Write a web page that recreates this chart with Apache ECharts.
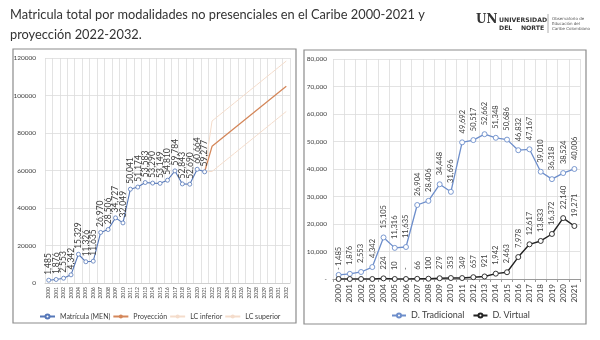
<!DOCTYPE html>
<html><head><meta charset="utf-8">
<script src="https://cdn.jsdelivr.net/npm/echarts@6/dist/echarts.min.js"></script>
<style>html,body{margin:0;padding:0;background:#fff}#c{width:600px;height:340px}</style>
</head><body><div id="c"></div>
<script>
var titleLines = ['Matricula total por modalidades no presenciales en el Caribe 2000-2021 y', 'proyección 2022-2032.'];
var yearsLeft = ['2000','2001','2002','2003','2004','2005','2006','2007','2008','2009','2010','2011','2012','2013','2014','2015','2016','2017','2018','2019','2020','2021','2022','2023','2024','2025','2026','2027','2028','2029','2030','2031','2032'];
var matricula = [1485,1876,2553,4342,15329,11326,11635,26970,28506,34727,32049,50041,51174,53583,53290,53149,54810,59784,52843,52690,60664,59277,null,null,null,null,null,null,null,null,null,null,null];
var proyeccion = [null,null,null,null,null,null,null,null,null,null,null,null,null,null,null,null,null,null,null,null,null,59277,72900,76100,79300,82500,85700,88900,92100,95300,98500,101700,104900];
var lcInferior = [null,null,null,null,null,null,null,null,null,null,null,null,null,null,null,null,null,null,null,null,null,59277,59500,62700,65900,69100,72300,75500,78700,81900,85100,88300,91500];
var lcSuperior = [null,null,null,null,null,null,null,null,null,null,null,null,null,null,null,null,null,null,null,null,null,59277,86400,89600,92800,96000,99200,102400,105600,108800,112000,115200,118400];
var leftTicks = [0,20000,40000,60000,80000,100000,120000];

var yearsRight = ['2000','2001','2002','2003','2004','2005','2006','2007','2008','2009','2010','2011','2012','2013','2014','2015','2016','2017','2018','2019','2020','2021'];
var tradicional = [1485,1876,2553,4342,15105,11316,11635,26904,28406,34448,31696,49692,50517,52662,51348,50686,46832,47167,39010,36318,38524,40006];
var virtual = [0,0,0,0,224,10,0,66,100,279,353,349,657,921,1942,2463,7978,12617,13833,16372,22140,19271];
var virtualHiddenLabels = ['2001','2002','2003'];
var rightTicks = [0,10000,20000,30000,40000,50000,60000,70000,80000];

function fmt(v){ return v === 0 ? '-' : v.toLocaleString('en-US'); }

var chart = echarts.init(document.getElementById('c'), null, {renderer:'canvas'});
var F = 'Lato, "Open Sans", sans-serif';
var gridColor = '#dcdcdc';
var labelCol = '#404040';

var rotLabel = function(size, dist){
  return {show:true, position:'top', rotate:90, align:'left', verticalAlign:'middle', distance:dist, fontSize:size, color:labelCol, fontFamily:F};
};

chart.setOption({
  animation:false,
  textStyle:{fontFamily:F},
  graphic:[
    {type:'text', left:10, top:5, style:{text:titleLines.join('\n'), font:'12.8px '+F, fill:'#333', lineHeight:20}},
    {type:'rect', shape:{x:13,y:49,width:283,height:274}, style:{fill:'none', stroke:'#8c8c8c', lineWidth:1.2}, z:-1},
    {type:'rect', shape:{x:304,y:50,width:282,height:274}, style:{fill:'none', stroke:'#8c8c8c', lineWidth:1.2}, z:-1},
    {type:'text', x:476, y:14, style:{text:'UN', font:'bold 12px "DejaVu Serif", serif', fill:'#333'}},
    {type:'text', x:499, y:17, style:{text:'UNIVERSIDAD', font:'bold 6.2px "DejaVu Sans", sans-serif', fill:'#333'}},
    {type:'text', x:499, y:25, style:{text:'DEL    NORTE', font:'bold 6.2px "DejaVu Sans", sans-serif', fill:'#333'}},
    {type:'line', shape:{x1:548,y1:14,x2:548,y2:33}, style:{stroke:'#999', lineWidth:0.8}},
    {type:'text', x:552, y:16, style:{text:'Observatorio de\nEducación del\nCaribe Colombiano', font:'4px "DejaVu Sans", sans-serif', fill:'#555', lineHeight:5}}
  ],
  legend:[
    {data:[{name:'Matrícula (MEN)'},{name:'Proyección'},{name:'LC inferior'},{name:'LC superior'}],
     left:34, top:308, itemWidth:15, itemHeight:5, itemGap:2, textStyle:{fontSize:7, color:'#404040', fontFamily:F}},
    {data:[{name:'D. Tradicional'},{name:'D. Virtual'}],
     left:386, top:306, itemWidth:14, itemHeight:5, itemGap:8, textStyle:{fontSize:9, color:'#404040', fontFamily:F}}
  ],
  grid:[
    {left:45, top:58, width:245, height:225},
    {left:333, top:59, width:247, height:220}
  ],
  xAxis:[
    {gridIndex:0, type:'category', data:yearsLeft, boundaryGap:true,
     axisLine:{show:true, lineStyle:{color:'#cfcfcf'}}, axisTick:{show:false},
     axisLabel:{rotate:90, fontSize:5, color:'#404040', margin:4, interval:0},
     splitLine:{show:true, interval:0, lineStyle:{color:gridColor, width:0.8}}},
    {gridIndex:1, type:'category', data:yearsRight, boundaryGap:true,
     axisLine:{show:true, lineStyle:{color:'#9a9a9a'}}, axisTick:{show:true, length:3, lineStyle:{color:'#9a9a9a'}},
     axisLabel:{rotate:90, fontSize:8, color:'#404040', margin:5, interval:0},
     splitLine:{show:true, interval:0, lineStyle:{color:gridColor, width:0.8}}}
  ],
  yAxis:[
    {gridIndex:0, type:'value', min:0, max:120000, interval:20000,
     axisLine:{show:false}, axisTick:{show:false},
     axisLabel:{fontSize:6.5, color:'#404040', margin:9, formatter:function(v){return String(v);}},
     splitLine:{lineStyle:{color:gridColor, width:0.8}}},
    {gridIndex:1, type:'value', min:0, max:80000, interval:10000,
     axisLine:{show:false}, axisTick:{show:false},
     axisLabel:{fontSize:6.5, color:'#404040', margin:6, formatter:function(v){return fmt(v);}},
     splitLine:{lineStyle:{color:gridColor, width:0.8}}}
  ],
  series:[
    {name:'LC inferior', type:'line', xAxisIndex:0, yAxisIndex:0, data:lcInferior, symbol:'none',
     lineStyle:{color:'#f4dccb', width:1}, itemStyle:{color:'#f4dccb'}},
    {name:'LC superior', type:'line', xAxisIndex:0, yAxisIndex:0, data:lcSuperior, symbol:'none',
     lineStyle:{color:'#f4dccb', width:1}, itemStyle:{color:'#f4dccb'}},
    {name:'Proyección', type:'line', xAxisIndex:0, yAxisIndex:0, data:proyeccion, symbol:'none',
     lineStyle:{color:'#d4875a', width:1.3}, itemStyle:{color:'#d4875a'}},
    {name:'Matrícula (MEN)', type:'line', xAxisIndex:0, yAxisIndex:0, data:matricula,
     symbol:'circle', symbolSize:4, showSymbol:true,
     lineStyle:{color:'#5577b8', width:1.1}, itemStyle:{color:'#ffffff', borderColor:'#5577b8', borderWidth:0.8},
     label:Object.assign(rotLabel(8.5, 3), {formatter:function(p){return fmt(p.value);}})},
    {name:'D. Tradicional', type:'line', xAxisIndex:1, yAxisIndex:1, data:tradicional,
     symbol:'circle', symbolSize:5,
     lineStyle:{color:'#6d8ecb', width:1.3}, itemStyle:{color:'#ffffff', borderColor:'#6d8ecb', borderWidth:0.9},
     label:Object.assign(rotLabel(7.5, 6), {formatter:function(p){return fmt(p.value);}})},
    {name:'D. Virtual', type:'line', xAxisIndex:1, yAxisIndex:1, data:virtual,
     symbol:'circle', symbolSize:5,
     lineStyle:{color:'#222222', width:1.4}, itemStyle:{color:'#ffffff', borderColor:'#222222', borderWidth:0.9},
     label:Object.assign(rotLabel(7.5, 6), {formatter:function(p){return virtualHiddenLabels.indexOf(p.name) >= 0 ? '' : fmt(p.value);}})}
  ]
});
</script></body></html>
